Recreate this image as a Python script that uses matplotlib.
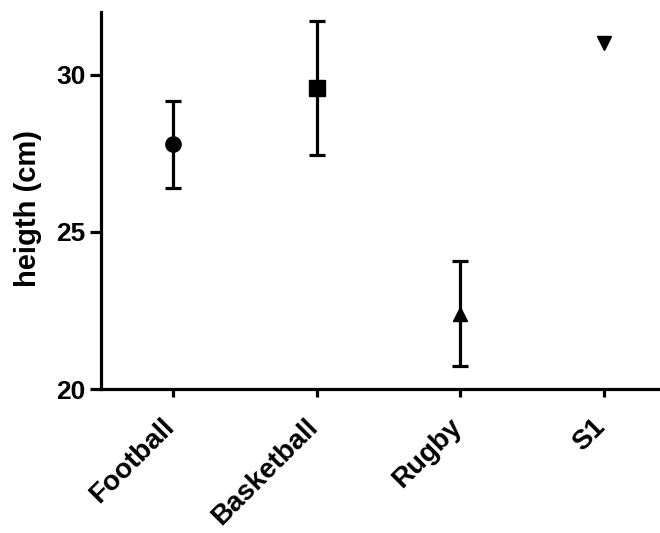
import matplotlib
matplotlib.use("Agg")
import matplotlib.pyplot as plt
from matplotlib.transforms import ScaledTranslation

plt.rcParams['font.family'] = ['Liberation Sans', 'DejaVu Sans']
plt.rcParams['font.weight'] = 'bold'

# Group means and error half-widths
categories = ["Football", "Basketball", "Rugby", "S1"]
means = [27.79, 29.58, 22.40, 31.02]
errors = [1.39, 2.14, 1.68, 0.0]
markers = ["o", "s", "^", "v"]
yticks = [20, 25, 30]

fig = plt.figure(figsize=(6.6, 5.33), dpi=100)
ax = fig.add_axes([0.153, 0.270, 0.847, 0.7075])

for i, (m, e, mk) in enumerate(zip(means, errors, markers)):
    ms = 11 if mk in ("o", "s") else 10
    if e > 0:
        ax.errorbar(i, m, yerr=e, fmt=mk, color="black", markersize=ms,
                    elinewidth=2.3, capsize=6, capthick=2.3, clip_on=False)
    else:
        ax.plot(i, m, marker=mk, color="black", markersize=ms,
                linestyle="none", clip_on=False)

ax.set_xlim(-0.5, 3.39)
ax.set_ylim(20, 32)
ax.set_yticks(yticks)
ax.set_xticks(range(len(categories)))
ax.set_xticklabels(categories, rotation=45, ha="right", rotation_mode="anchor",
                   fontsize=20, fontweight="bold")
ax.tick_params(axis="y", labelsize=19, width=2.3, length=8, pad=3)
ax.tick_params(axis="x", width=2.3, length=6, pad=6)
for lbl in ax.get_yticklabels():
    lbl.set_fontweight("bold")

# nudge the rotated category labels down-left so they sit under their ticks
shift = ScaledTranslation(-12 / 100, -8 / 100, fig.dpi_scale_trans)
for lbl in ax.get_xticklabels():
    lbl.set_transform(lbl.get_transform() + shift)

ax.set_ylabel("heigth (cm)", fontsize=21, fontweight="bold", labelpad=10)
ax.yaxis.set_label_coords(-0.105, 0.48)

for side in ("top", "right"):
    ax.spines[side].set_visible(False)
for side in ("left", "bottom"):
    ax.spines[side].set_linewidth(2.3)

fig.savefig("out.png", dpi=100)
